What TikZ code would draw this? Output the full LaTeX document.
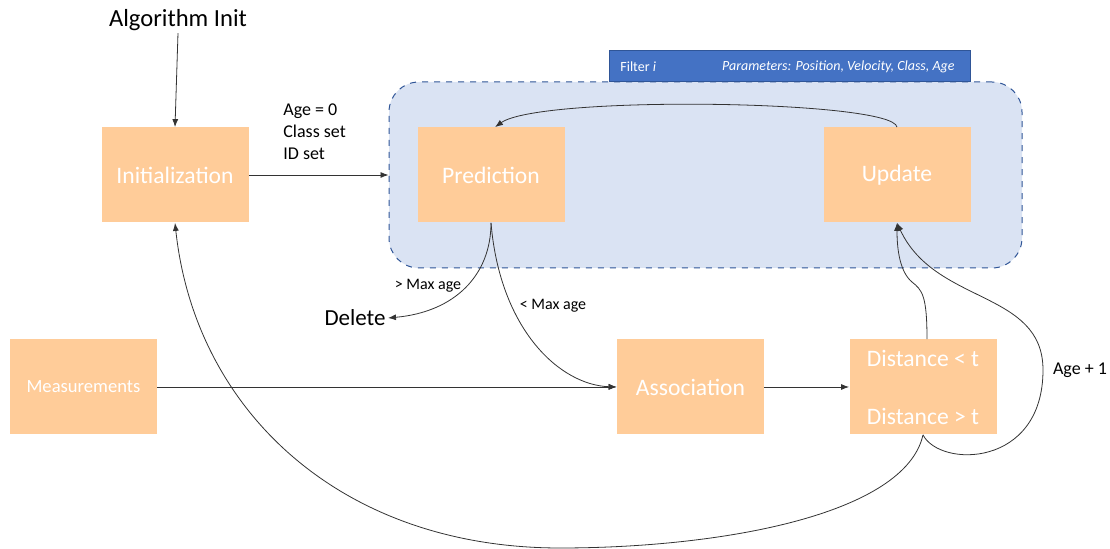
\documentclass[tikz,border=0pt]{standalone}
\usepackage{fontspec}
\setmainfont{Carlito}
\usetikzlibrary{arrows.meta, positioning}

\definecolor{stagefill}{HTML}{FFCC99}
\definecolor{filterfill}{HTML}{DAE3F3}
\definecolor{filterline}{HTML}{2F5597}
\definecolor{headerfill}{HTML}{4472C4}

\begin{document}
\begin{tikzpicture}[
        x=0.5pt, y=-0.5pt,
        stage/.style={rectangle, fill=stagefill, text=white, inner sep=0pt, minimum width=73.5pt, minimum height=47.5pt, font=\fontsize{11.8}{13}\selectfont},
        filterbox/.style={rectangle, draw=filterline, fill=filterfill, dashed, line width=0.5pt, rounded corners=15pt, minimum width=316.5pt, minimum height=93pt},
        header/.style={rectangle, draw=filterline, fill=headerfill, line width=0.5pt, minimum width=180.5pt, minimum height=15.5pt},
        headtext/.style={text=white, inner sep=0pt, font=\fontsize{7}{8}\selectfont},
        label/.style={inner sep=0pt, font=\fontsize{9}{11}\selectfont},
        smalllabel/.style={inner sep=0pt, font=\fontsize{8}{10}\selectfont},
        arrow/.style={-{Latex[length=4pt, width=3pt]}, line width=0.4pt, black!80}
    ]
    \useasboundingbox (0,0) rectangle (1110,549);

    % Filter i container
    \node (filter) [filterbox] at (705.5,175) {};
    \node (head) [header] at (789.5,66.5) {};
    \node [headtext, anchor=west] at (620,66.5) {Filter \textit{i}};
    \node [headtext, anchor=east] at (955,66.5) {\textit{Parameters: Position, Velocity, Class, Age}};

    % Stages
    \node (init) [stage] at (175,175) {Initialization};
    \node (pred) [stage] at (491,175) {Prediction};
    \node (upd) [stage] at (897,175) {Update};
    \node (meas) [stage, font=\fontsize{9.3}{10}\selectfont] at (83.5,387) {Measurements};
    \node (assoc) [stage] at (690.5,387) {Association};
    \node (dist) [stage, align=center] at (923,387) {Distance < t\\[16pt]Distance > t};

    % Free texts
    \node (start) [font=\fontsize{12.3}{14}\selectfont, inner sep=1pt] at (178,20) {Algorithm Init};
    \node (del) [font=\fontsize{11.5}{13}\selectfont, inner sep=1pt, anchor=east] at (388,318) {Delete};
    \node (setup) [label, align=left, anchor=north west] at (283,103) {Age = 0\\Class set\\ID set};

    % Connectors
    \draw[arrow] (start.south) -- (init.north);
    \draw[arrow] (init.east) -- (filter.west);
    \draw[arrow] (upd.north) .. controls (893,100) and (540,95) .. ([xshift=2pt]pred.north);
    \draw[arrow] (pred.south) .. controls (491,275) and (455,312) .. (del.east);
    \node [smalllabel] at (428,286) {> Max age};
    \draw[arrow] (pred.south) .. controls (500,330) and (560,385) .. (assoc.west);
    \node [smalllabel] at (553,306) {< Max age};
    \draw[arrow] (meas.east) -- (assoc.west);
    \draw[arrow] (assoc.east) -- (dist.west);
    \draw[arrow] ([xshift=2pt]dist.north) .. controls (927,295) and (922,290) .. (912,282)
        .. controls (900,272) and (897,250) .. (upd.south);
    \draw[arrow] (dist.south) .. controls (940,468) and (1043,468) .. (1043,370)
        .. controls (1043,290) and (935,305) .. (upd.south);
    \node (agestep) [label] at (1080,370) {Age + 1};
    \draw[arrow] (dist.south) .. controls (905,515) and (720,548) .. (560,548)
        .. controls (340,548) and (195,410) .. (init.south);
\end{tikzpicture}
\end{document}
